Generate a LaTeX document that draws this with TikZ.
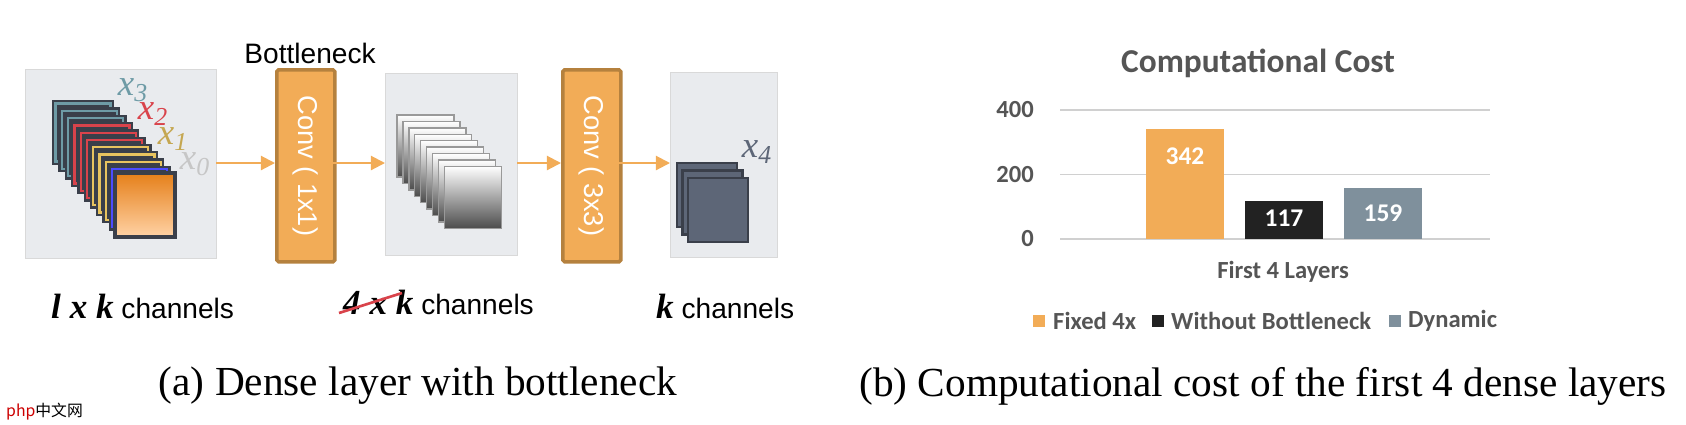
\documentclass[tikz,border=0pt]{standalone}
\usepackage{fontspec}
\setmainfont{Liberation Serif}
\newfontfamily\arial{Liberation Sans}
\newfontfamily\calibri{Carlito}
\newfontfamily\cjk{Noto Sans CJK SC}
\usetikzlibrary{arrows.meta,positioning}
\definecolor{panelgray}{HTML}{E9EBEE}
\definecolor{convorange}{HTML}{F2AC57}
\definecolor{convedge}{HTML}{B5813E}
\definecolor{layeredge}{HTML}{3A3F4A}
\definecolor{tealx}{HTML}{6E9BA6}
\definecolor{redx}{HTML}{D9434B}
\definecolor{yellowx}{HTML}{E8C45F}
\definecolor{slate}{HTML}{5D6677}
\definecolor{barblack}{HTML}{222222}
\definecolor{bargray}{HTML}{7F909C}
\definecolor{gridgray}{HTML}{D0D0D0}
\definecolor{txtgray}{HTML}{555555}
\tikzset{
  panel/.style={draw=gray!30, fill=panelgray, minimum width=#1, inner sep=0},
  conv/.style={draw=convedge, line width=2pt, fill=convorange, rounded corners=1pt,
    minimum width=58*0.02cm, minimum height=192*0.02cm, inner sep=0},
  convtext/.style={text=white, font=\arial\fontsize{15.5}{15.5}\selectfont, rotate=-90},
  flow/.style={draw=convorange, line width=1.2pt, -{Triangle[length=8pt,width=8pt]}},
  xlab/.style={font=\itshape\fontsize{21}{21}\selectfont, inner sep=0},
  chan/.style={font=\arial\fontsize{16}{16}\selectfont, anchor=west},
  ctext/.style={font=\calibri\bfseries\fontsize{14}{14}\selectfont, text=txtgray},
  cval/.style={font=\calibri\bfseries\fontsize{14.5}{14.5}\selectfont, text=white},
}
\begin{document}
\begin{tikzpicture}[x=0.02cm,y=-0.02cm]
\useasboundingbox (0,0) rectangle (1686,424);
% left panel: dense layer with bottleneck
\node[panel=191*0.02cm, minimum height=189*0.02cm, anchor=north west] (in) at (25,69) {};
\node[conv, anchor=north west] (conv1) at (275,68) {};
\node[convtext] at (conv1) {Conv ( 1x1)};
\node[font=\arial\fontsize{16}{16}\selectfont] (bneck) at (310,53) {Bottleneck};
\node[panel=132*0.02cm, minimum height=182*0.02cm, anchor=north west] (mid) at (385,73) {};
\node[conv, anchor=north west] (conv2) at (561,68) {};
\node[convtext] at (conv2) {Conv ( 3x3)};
\node[panel=107*0.02cm, minimum height=185*0.02cm, anchor=north west] (out) at (670,72) {};

\coordinate (a1) at (216,163);
\coordinate (a2) at (333,163);
\coordinate (a3) at (517,163);
\coordinate (a4) at (618,163);
\draw[flow] (a1) -- (a1 -| conv1.west);
\draw[flow] (a2) -- (a2 -| mid.west);
\draw[flow] (a3) -- (a3 -| conv2.west);
\draw[flow] (a4) -- (a4 -| out.west);

% stacked feature maps
\foreach \c [count=\i from 0] in {tealx,tealx,tealx,redx,redx,redx,yellowx,yellowx,yellowx,blue!70,green!60!black} {
  \fill[layeredge] (52+6.3*\i,100+7.3*\i) rectangle ++(62,65);
  \draw[\c, line width=1.3pt] (52+6.3*\i+3.5,100+7.3*\i+3.5) rectangle ++(55,58);
}
\shade[top color=orange!60!brown, bottom color=orange!35!white] (115,173) rectangle (175,237);
\draw[layeredge, line width=1.8pt] (115,173) rectangle (175,237);
\node[xlab, text=tealx] (x3) at (133,90) {x\textsubscript{3}};
\node[xlab, text=redx] (x2) at (153,114) {x\textsubscript{2}};
\node[xlab, text=yellowx!85!black] (x1) at (173,139) {x\textsubscript{1}};
\node[xlab, text=gray!45] (x0) at (195,164) {x\textsubscript{0}};

\foreach \i in {0,...,8}
  \shade[top color=white, bottom color=black!70, draw=gray!80, line width=0.8pt]
    (397+5.9*\i,115+6.4*\i) rectangle ++(57,62);

\foreach \i in {0,...,2}
  \draw[draw=layeredge, line width=1.6pt, fill=slate] (677+5.5*\i,163+7.5*\i) rectangle ++(60,64);
\node[xlab, text=slate] (x4) at (757,152) {x\textsubscript{4}};

\node[chan] (c1) at (45,306) {\textbf{\textit{\fontspec{Liberation Serif}\fontsize{20}{20}\selectfont l x k}} channels};
\node[chan] (c2) at (337,302) {\textbf{\textit{\fontspec{Liberation Serif}\fontsize{20}{20}\selectfont 4 x k}} channels};
\draw[redx, line width=1.5pt] (339,313) -- (402,293);
\node[chan] (c3) at (650,306) {\textbf{\textit{\fontspec{Liberation Serif}\fontsize{20}{20}\selectfont k}} channels};

% right panel: chart
\node[font=\calibri\bfseries\fontsize{19}{19}\selectfont, text=txtgray] (title) at (1258,63) {Computational Cost};
\foreach \v in {0,200,400} {
  \draw[gridgray, line width=1pt] (1060,239-0.3225*\v) -- (1490,239-0.3225*\v);
  \node[ctext, anchor=east] at (1040,239-0.3225*\v) {\v};
}
\fill[convorange] (1146,239) rectangle (1224,129);
\node[cval] (v1) at (1185,156) {342};
\fill[barblack] (1245,239) rectangle (1323,201);
\node[cval] (v2) at (1284,218) {117};
\fill[bargray] (1344,239) rectangle (1422,188);
\node[cval] (v3) at (1383,213) {159};
\node[ctext] (cat) at (1283,272) {First 4 Layers};
\node[ctext, anchor=west] (l1) at (1047,321) {Fixed 4x};
\fill[convorange] (1033,315) rectangle ++(12,12);
\node[ctext, anchor=west] (l2) at (1165,321) {Without Bottleneck};
\fill[barblack] (1152,315) rectangle ++(12,12);
\node[ctext, anchor=west] (l3) at (1402,321) {Dynamic};
\fill[bargray] (1389,315) rectangle ++(12,12);

% captions
\node[font=\fontsize{23.5}{23.5}\selectfont] (capa) at (418,386) {(a) Dense layer with bottleneck};
\node[font=\fontsize{23.5}{23.5}\selectfont] (capb) at (1263,386) {(b) Computational cost of the first 4 dense layers};
\node[font=\cjk\fontsize{9}{9}\selectfont, anchor=west] (wm) at (0,412) {\textcolor{red!80!black}{php}中文网};
\end{tikzpicture}
\end{document}
